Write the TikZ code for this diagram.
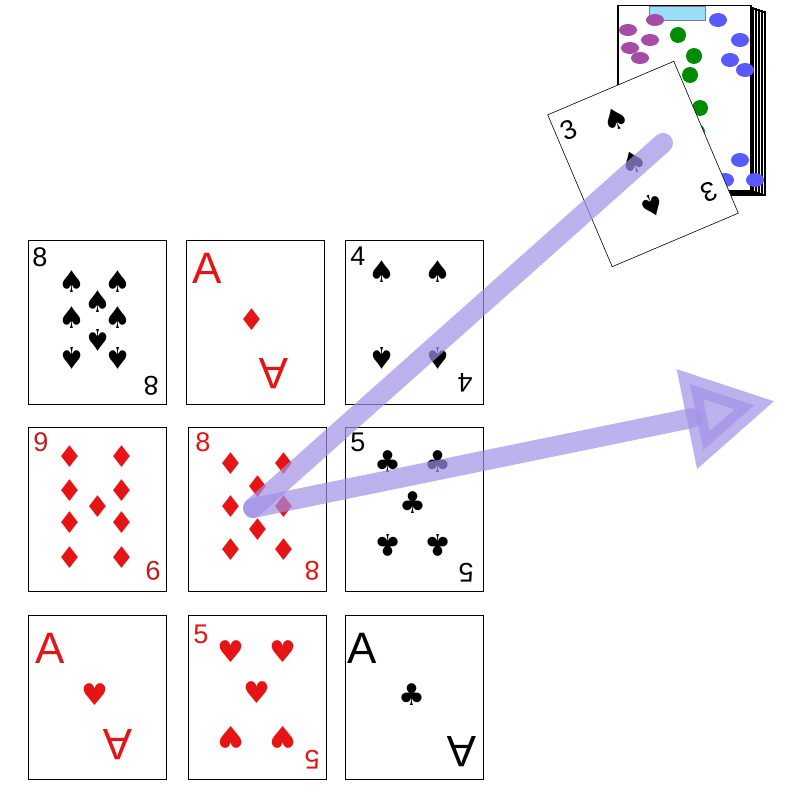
\documentclass[tikz,border=0pt]{standalone}
\usepackage{fontspec}
\setmainfont{Liberation Sans}
\newfontfamily\suitfont{DejaVu Sans}
\usepackage{xcolor}
\usetikzlibrary{arrows.meta}
\definecolor{cardred}{RGB}{230,20,20}
\definecolor{ninered}{RGB}{190,30,30}
\definecolor{arrowviolet}{RGB}{160,145,230}
\newcommand{\suitsp}{{\suitfont\char"2660}}
\newcommand{\suithe}{{\suitfont\char"2665}}
\newcommand{\suitdi}{{\suitfont\char"2666}}
\newcommand{\suitcl}{{\suitfont\char"2663}}

\begin{document}
\begin{tikzpicture}[x=1pt,y=-1pt,
  card/.style={draw, line width=0.6pt, fill=white, minimum width=138pt, minimum height=164pt, inner sep=0pt},
  pip/.style={font=\fontsize{30}{30}\selectfont, inner sep=0pt},
  rank/.style={font=\fontsize{27}{27}\selectfont, inner sep=0pt},
  ace/.style={font=\fontsize{44}{44}\selectfont, inner sep=0pt}]
\useasboundingbox (0,0) rectangle (795,792);

% deck
\foreach \d in {5,4,3,2,1}
  \draw[line width=1.2pt, fill=white] (617+3*\d,7+\d) rectangle (750+3*\d,190+\d);
\node[draw, line width=1.5pt, fill=white, minimum width=133pt, minimum height=185pt, anchor=north west] (deck) at (617,5) {};
\node[fill=cyan!40, draw=gray, minimum width=56pt, minimum height=14pt, inner sep=0pt] (banner) at (677,13) {};
\foreach \x/\y in {628/30,640/58,630/48,655/20,650/40}
  \fill[violet!70] (\x,\y) ellipse (9pt and 6pt);
\foreach \x/\y in {678/35,694/56,700/108,697/132,690/75}
  \fill[green!55!black] (\x,\y) ellipse (8pt and 8pt);
\foreach \x/\y in {718/20,740/40,730/60,745/70,740/160,755/180,725/180}
  \fill[blue!65] (\x,\y) ellipse (9pt and 7pt);

% drawn card
\begin{scope}[shift={(643,164)}, rotate=23]
  \node[card, transform shape, minimum width=137pt, minimum height=165pt] (drawn) at (0,0) {};
  \node[rank, transform shape] (d3a) at (-55,-60) {3};
  \node[pip, transform shape] (dsa) at (-8,-52) {\suitsp};
  \node[pip, transform shape] (dsb) at (-8,-5) {\suitsp};
  \node[pip, transform shape, rotate=180] (dsc) at (-8,42) {\suitsp};
  \node[rank, transform shape, rotate=180] (d3b) at (50,52) {3};
\end{scope}

% grid of cards
\node[card] (c11) at (97,322) {};
\node[card] (c12) at (255,322) {};
\node[card] (c13) at (414,322) {};
\node[card] (c21) at (97,509) {};
\node[card] (c22) at (257,509) {};
\node[card] (c23) at (414,509) {};
\node[card] (c31) at (97,697) {};
\node[card] (c32) at (257,697) {};
\node[card] (c33) at (414,697) {};

% 8 of spades
\node[rank] at (40,257) {8};
\node[rank, rotate=180] at (151,386) {8};
\foreach \x/\y in {72/282,118/282,98/302,72/318,118/318}
  \node[pip] at (\x,\y) {\suitsp};
\foreach \x/\y in {98/340,72/358,118/358}
  \node[pip, rotate=180] at (\x,\y) {\suitsp};
% ace of diamonds
\node[ace, text=cardred] at (207,268) {A};
\node[pip, text=cardred] at (252,320) {\suitdi};
\node[ace, text=cardred, rotate=180] at (274,374) {A};
% 4 of spades
\node[rank] at (358,256) {4};
\node[rank, rotate=180] at (465,383) {4};
\foreach \x in {382,438} {
  \node[pip] at (\x,272) {\suitsp};
  \node[pip, rotate=180] at (\x,358) {\suitsp};
}
% 9 of diamonds
\node[rank, text=ninered] at (41,442) {9};
\node[rank, text=ninered, rotate=180] at (153,571) {9};
\foreach \x/\y in {70/457,122/457,70/491,122/491,98/507,70/523,122/523,70/558,122/558}
  \node[pip, text=cardred] at (\x,\y) {\suitdi};
% 8 of diamonds
\node[rank, text=cardred] at (203,442) {8};
\node[rank, text=cardred, rotate=180] at (312,571) {8};
\foreach \x/\y in {231/464,284/464,258/487,231/507,284/507,258/530,231/550,284/550}
  \node[pip, text=cardred] at (\x,\y) {\suitdi};
% 5 of clubs
\node[rank] at (358,442) {5};
\node[rank, rotate=180] at (466,573) {5};
\foreach \x/\y in {388/462,438/462,413/503}
  \node[pip] at (\x,\y) {\suitcl};
\foreach \x in {388,438}
  \node[pip, rotate=180] at (\x,545) {\suitcl};
% ace of hearts
\node[ace, text=cardred] at (50,648) {A};
\node[pip, text=cardred] at (95,695) {\suithe};
\node[ace, text=cardred, rotate=180] at (118,745) {A};
% 5 of hearts
\node[rank, text=cardred] at (201,634) {5};
\node[rank, text=cardred, rotate=180] at (312,760) {5};
\foreach \x/\y in {231/652,283/652,257/693}
  \node[pip, text=cardred] at (\x,\y) {\suithe};
\foreach \x in {231,283}
  \node[pip, text=cardred, rotate=180] at (\x,737) {\suithe};
% ace of clubs
\node[ace] at (362,648) {A};
\node[pip] at (412,695) {\suitcl};
\node[ace, rotate=180] at (462,752) {A};

% the move
\coordinate (from) at (663,143);
\coordinate (turn) at (253,508);
\coordinate (out) at (775,401);
\draw[arrowviolet, opacity=0.7, line width=20pt, line cap=round] (from) -- (turn);
\draw[arrowviolet, opacity=0.7, line width=20pt, line cap=round,
  -{Triangle[length=90pt,width=96pt]}] (turn) -- (out);
\end{tikzpicture}
\end{document}
